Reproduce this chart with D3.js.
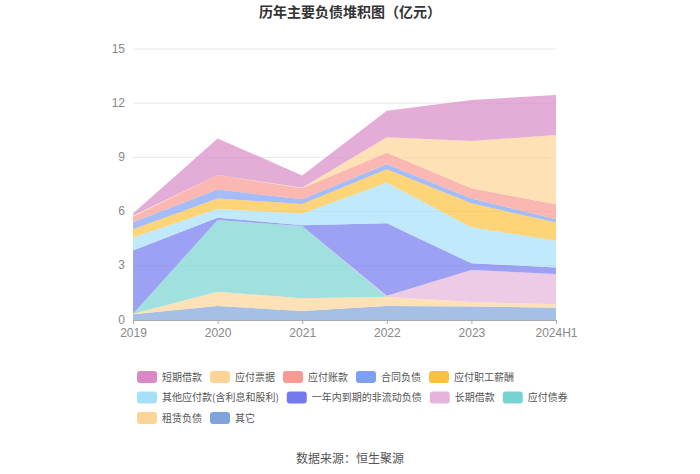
<!DOCTYPE html>
<html>
<head>
<meta charset="utf-8">
<script src="https://cdn.jsdelivr.net/npm/d3@7"></script>
<style>
  body { margin: 0; background: #fff; }
  svg { font-family: "Noto Sans CJK SC", "Noto Sans", sans-serif; }
</style>
</head>
<body>
<div id="chart"></div>
<script>
// 年份
const years = ["2019", "2020", "2021", "2022", "2023", "2024H1"];

// 各项负债（亿元），从底到顶
const qita      = [0.32, 0.77, 0.50, 0.77, 0.75, 0.68]; // 其它
const zulin     = [0.03, 0.80, 0.70, 0.52, 0.25, 0.19]; // 租赁负债
const zhaiquan  = [0.00, 3.96, 4.00, 0.00, 0.00, 0.00]; // 应付债券
const changqi   = [0.00, 0.00, 0.00, 0.05, 1.77, 1.68]; // 长期借款
const yinian    = [3.49, 0.13, 0.05, 4.01, 0.37, 0.36]; // 一年内到期的非流动负债
const qitayf    = [0.73, 0.48, 0.65, 2.25, 1.99, 1.48]; // 其他应付款
const zhigong   = [0.45, 0.59, 0.52, 0.74, 1.33, 1.00]; // 应付职工薪酬
const hetong    = [0.39, 0.50, 0.26, 0.28, 0.27, 0.18]; // 合同负债
const zhangkuan = [0.31, 0.79, 0.61, 0.64, 0.56, 0.83]; // 应付账款
const piaoju    = [0.05, 0.00, 0.03, 0.85, 2.62, 3.84]; // 应付票据
const duanqi    = [0.12, 2.03, 0.68, 1.47, 2.27, 2.21]; // 短期借款

const yTicks = [0, 3, 6, 9, 12, 15];

// 图例顺序（同时决定颜色）
const series = [
  { key: "短期借款", values: duanqi, color: "#d98ac6" },
  { key: "应付票据", values: piaoju, color: "#fdd496" },
  { key: "应付账款", values: zhangkuan, color: "#f99a92" },
  { key: "合同负债", values: hetong, color: "#7ea0f3" },
  { key: "应付职工薪酬", values: zhigong, color: "#fcc23d" },
  { key: "其他应付款(含利息和股利)", values: qitayf, color: "#a5dff9" },
  { key: "一年内到期的非流动负债", values: yinian, color: "#7479ee" },
  { key: "长期借款", values: changqi, color: "#e6b3dc" },
  { key: "应付债券", values: zhaiquan, color: "#77d3d2" },
  { key: "租赁负债", values: zulin, color: "#fdd497" },
  { key: "其它", values: qita, color: "#7fa4dc" }
];

const width = 700, height = 474;
const margin = { top: 49, right: 144, bottom: 154, left: 133 };

const svg = d3.select("#chart").append("svg")
  .attr("width", width).attr("height", height);

// 标题
svg.append("text")
  .attr("x", width / 2).attr("y", 17)
  .attr("text-anchor", "middle")
  .attr("font-size", 14).attr("font-weight", "bold")
  .attr("fill", "#333")
  .text("历年主要负债堆积图（亿元）");

// 数据表
const table = years.map((yr, i) => {
  const row = { year: yr };
  series.forEach(s => { row[s.key] = s.values[i]; });
  return row;
});
const stackKeys = series.map(s => s.key).reverse(); // 底部先堆
const stacked = d3.stack().keys(stackKeys)(table);

const x = d3.scalePoint().domain(years).range([margin.left, width - margin.right]);
const y = d3.scaleLinear().domain([0, 15]).range([height - margin.bottom, margin.top]);

// 网格
svg.append("g").selectAll("line")
  .data(yTicks.slice(1))
  .join("line")
  .attr("x1", margin.left).attr("x2", width - margin.right)
  .attr("y1", d => y(d)).attr("y2", d => y(d))
  .attr("stroke", "#e8e8e8");

// 面积
const colorOf = k => series.find(s => s.key === k).color;
const area = d3.area()
  .x(d => x(d.data.year))
  .y0(d => y(d[0]))
  .y1(d => y(d[1]));

svg.append("g").selectAll("path")
  .data(stacked)
  .join("path")
  .attr("d", area)
  .attr("fill", d => colorOf(d.key))
  .attr("fill-opacity", 0.7);

// Y 轴
const yAxis = svg.append("g")
  .attr("transform", `translate(${margin.left},0)`)
  .call(d3.axisLeft(y).tickValues(yTicks).tickSize(0).tickPadding(8));
yAxis.select(".domain").remove();
yAxis.selectAll("text").attr("fill", "#888").attr("font-size", 12).attr("dy", "0.25em");

// X 轴
const xAxis = svg.append("g")
  .attr("transform", `translate(0,${y(0)})`)
  .call(d3.axisBottom(x).tickSize(4).tickPadding(4));
xAxis.select(".domain").attr("stroke", "#aaa");
xAxis.selectAll(".tick line").attr("stroke", "#aaa");
xAxis.selectAll("text").attr("fill", "#888").attr("font-size", 12);

// 图例
const legend = svg.append("g");
const lx0 = 137, lMaxX = 585, rowH = 20.5;
let lx = lx0, ly = 377;
series.forEach(s => {
  const g = legend.append("g");
  g.append("rect")
    .attr("width", 20).attr("height", 12).attr("rx", 3)
    .attr("y", -6)
    .attr("fill", s.color);
  const t = g.append("text")
    .attr("x", 25).attr("dy", "0.35em")
    .attr("font-size", 10).attr("fill", "#555")
    .text(s.key);
  const w = 25 + t.node().getComputedTextLength();
  if (lx + w > lMaxX) { lx = lx0; ly += rowH; }
  g.attr("transform", `translate(${lx},${ly})`);
  lx += w + 8;
});

// 数据来源
svg.append("text")
  .attr("x", width / 2).attr("y", 463)
  .attr("text-anchor", "middle")
  .attr("font-size", 12).attr("fill", "#555")
  .text("数据来源：恒生聚源");
</script>
</body>
</html>
